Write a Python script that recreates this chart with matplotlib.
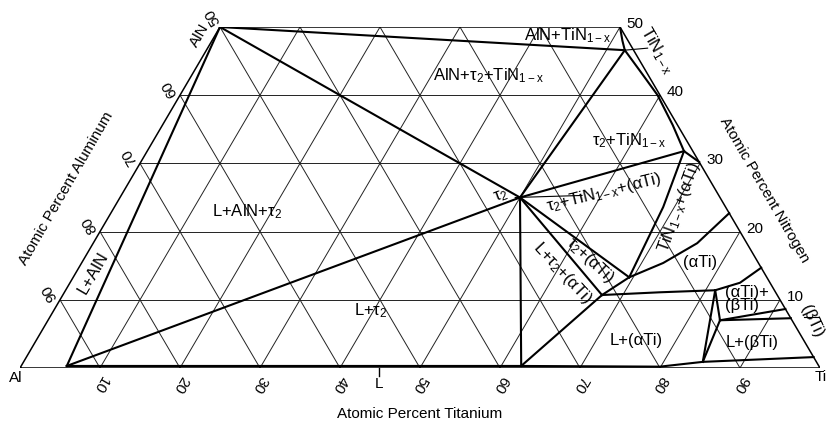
import numpy as np
import matplotlib
matplotlib.use("Agg")
import matplotlib.pyplot as plt

plt.rcParams['font.family'] = ['Liberation Sans', 'DejaVu Sans']
plt.rcParams['mathtext.fontset'] = 'custom'
plt.rcParams['mathtext.rm'] = 'Liberation Sans'
plt.rcParams['mathtext.it'] = 'Liberation Sans'
plt.rcParams['mathtext.default'] = 'regular'

# ---- phase boundaries, compositions as (at.% Ti, at.% N) ----
AlN = (0.0, 50.0)
TiN_top = (50.0, 50.0)
tau2 = (50.0, 25.0)
TiN_3ph = (52.3, 46.6)        # TiN1-x corner of AlN + tau2 + TiN1-x
TiN_3ph_b = (67.1, 31.8)      # TiN1-x corner of tau2 + TiN1-x + (aTi)
aTi_1 = (69.5, 13.3)          # (aTi) corner of tau2 + TiN1-x + (aTi)
aTi_2 = (67.4, 10.7)          # (aTi) corner of L + tau2 + (aTi)
aTi_3 = (81.2, 11.4)          # (aTi) corner of L + (aTi) + (bTi)
bTi_1 = (84.0, 7.0)           # (bTi) corner of L + (aTi) + (bTi)
liq_Al = (5.7, 0.3)
liq_tau2 = (62.5, 0.3)
liq_bTi = (84.9, 0.9)

tie_lines = [
    [AlN, liq_Al],
    [AlN, tau2],
    [AlN, TiN_3ph],
    [liq_Al, tau2],
    [tau2, liq_tau2],
    [tau2, TiN_3ph],
    [tau2, TiN_3ph_b],
    [tau2, aTi_1],
    [tau2, aTi_2],
    [liq_tau2, aTi_2],
    [aTi_2, aTi_1],
    [aTi_3, liq_bTi],
    [aTi_3, bTi_1],
    [bTi_1, liq_bTi],
]

TiN_left = [(50.0, 50.0), (51.3, 48.0), (52.3, 46.6)]
TiN_right = [(52.3, 46.6), (55.9, 43.4), (59.7, 40.0), (63.8, 35.6),
             (67.1, 31.8), (69.8, 30.2)]
TiN_aTi = [(67.1, 31.8), (68.6, 23.6), (69.5, 13.3)]
aTi_upper = [(69.5, 13.3), (72.7, 15.4), (75.5, 18.3), (77.3, 22.7)]
aTi_lower = [(67.4, 10.7), (74.4, 11.1), (81.2, 11.4), (83.75, 12.5),
             (85.3, 14.7)]
bTi_upper = [(84.0, 7.0), (91.35, 8.65)]
bTi_lower = [(84.0, 7.0), (92.7, 7.3)]
liquidus = [(5.7, 0.3), (62.5, 0.3), (79.9, 0.2), (84.9, 0.9), (98.4, 1.6)]

curves = [TiN_left, TiN_right, TiN_aTi, aTi_upper, aTi_lower,
          bTi_upper, bTi_lower, liquidus]

grid_levels = [10, 20, 30, 40, 50, 60, 70, 80, 90]
n_ticks = [10, 20, 30, 40, 50]
ti_ticks = [10, 20, 30, 40, 50, 60, 70, 80, 90]
al_ticks = [60, 70, 80, 90]


def to_xy(pts):
    pts = np.asarray(pts, dtype=float)
    ti, n = pts[:, 0], pts[:, 1]
    return ti + n / 2.0, n


fig = plt.figure(figsize=(8.26, 4.29), dpi=100)
ax = fig.add_axes([20 / 826, 61 / 429, 800 / 826, 341 / 429])
ax.set_xlim(0, 100)
ax.set_ylim(0, 50)
ax.axis('off')

grid_kw = dict(color='#222222', lw=0.7, solid_capstyle='butt', zorder=1)
# iso-nitrogen lines
for n in grid_levels:
    if n < 50:
        ax.plot(*to_xy([(0, n), (100 - n, n)]), **grid_kw)
# iso-titanium lines
for c in grid_levels:
    top = min(50, 100 - c)
    ax.plot(*to_xy([(c, 0), (c, top)]), **grid_kw)
# iso-aluminium lines
for a in grid_levels:
    s = 100 - a
    top = min(50, s)
    ax.plot(*to_xy([(s, 0), (s - top, top)]), **grid_kw)

# outline of the section
outline = [(0, 0), (100, 0), (50, 50), (0, 50), (0, 0)]
ax.plot(*to_xy(outline), color='black', lw=1.1, zorder=2)

bkw = dict(color='black', lw=1.5, zorder=3, solid_joinstyle='round')
for seg in tie_lines:
    ax.plot(*to_xy(seg), **bkw)
for cv in curves:
    ax.plot(*to_xy(cv), **bkw)

# leader lines
lkw = dict(color='black', lw=0.8, zorder=3)
ax.plot(*to_xy([TiN_3ph, (55.0, 46.9)]), **lkw)
ax.plot(*to_xy([(57.6, 25.3), (49.4, 25.0)]), **lkw)
ax.plot(*to_xy([(94.2, 7.5), (97.0, 7.5)]), **lkw)
ax.plot([44.9, 44.9], [0, -1.2], color='black', lw=1.0, clip_on=False)

fs = 11
fr = 12
tk = dict(ha='center', va='center', rotation_mode='anchor', clip_on=False)

# region labels (positions in plot coordinates)
ax.text(68.4, 48.8, 'AlN+TiN$_{1-x}$', fontsize=fr, **tk)
ax.text(58.6, 42.8, 'AlN+τ$_2$+TiN$_{1-x}$', fontsize=fr, **tk)
ax.text(76.1, 33.4, 'τ$_2$+TiN$_{1-x}$', fontsize=fr, **tk)
ax.text(73.0, 25.8, 'τ$_2$+TiN$_{1-x}$+(αTi)', fontsize=fr, rotation=14, **tk)
ax.text(82.4, 23.6, 'TiN$_{1-x}$+(αTi)', fontsize=fr, rotation=70, **tk)
ax.text(85.0, 15.4, '(αTi)', fontsize=fr, **tk)
ax.text(71.25, 15.8, 'τ$_2$+(αTi)', fontsize=fr, rotation=-43, **tk)
ax.text(67.75, 13.9, 'L+τ$_2$+(αTi)', fontsize=fr, rotation=-47, **tk)
ax.text(28.4, 22.9, 'L+AlN+τ$_2$', fontsize=fr, **tk)
ax.text(43.9, 8.4, 'L+τ$_2$', fontsize=fr, **tk)
ax.text(9.1, 13.9, 'L+AlN', fontsize=fr, rotation=60, **tk)
ax.text(77.0, 4.1, 'L+(αTi)', fontsize=fr, **tk)
ax.text(91.5, 3.7, 'L+(βTi)', fontsize=fr, **tk)
ax.text(90.9, 11.1, '(αTi)+', fontsize=fr, **tk)
ax.text(90.25, 9.1, '(βTi)', fontsize=fr, **tk)
ax.text(99.0, 6.9, '(βTi)', fontsize=fr, rotation=-65, **tk)
ax.text(60.1, 25.2, 'τ$_2$', fontsize=fr, rotation=20, **tk)
ax.text(79.6, 46.6, 'TiN$_{1-x}$', fontsize=fr, rotation=-60, **tk)

# corner labels
ax.text(-0.5, -1.5, 'Al', fontsize=fs, **tk)
ax.text(100.1, -1.3, 'Ti', fontsize=fs, **tk)
ax.text(22.4, 48.7, 'AlN', fontsize=fs, rotation=60, **tk)

# scale labels
for t in ti_ticks:
    ax.text(t, -2.35, str(t), fontsize=fs, rotation=-120, **tk)
ax.text(44.9, -2.35, 'L', fontsize=fs, **tk)
for n in n_ticks:
    ax.text(100 - n / 2 + 1.9, n + 0.45, str(n), fontsize=fs, **tk)
for a in al_ticks:
    n = 100 - a
    ax.text(n / 2 - 1.25, n + 1.0, str(a), fontsize=fs, rotation=120, **tk)
ax.text(25 - 0.9, 50 + 1.45, '50', fontsize=fs, rotation=120, **tk)

ax.text(50, -6.7, 'Atomic Percent Titanium', fontsize=fs, **tk)
ax.text(5.75, 26.4, 'Atomic Percent Aluminum', fontsize=fs, rotation=60, **tk)
ax.text(93.1, 26.1, 'Atomic Percent Nitrogen', fontsize=fs, rotation=-60, **tk)

fig.savefig('out.png', dpi=100, facecolor='white')
